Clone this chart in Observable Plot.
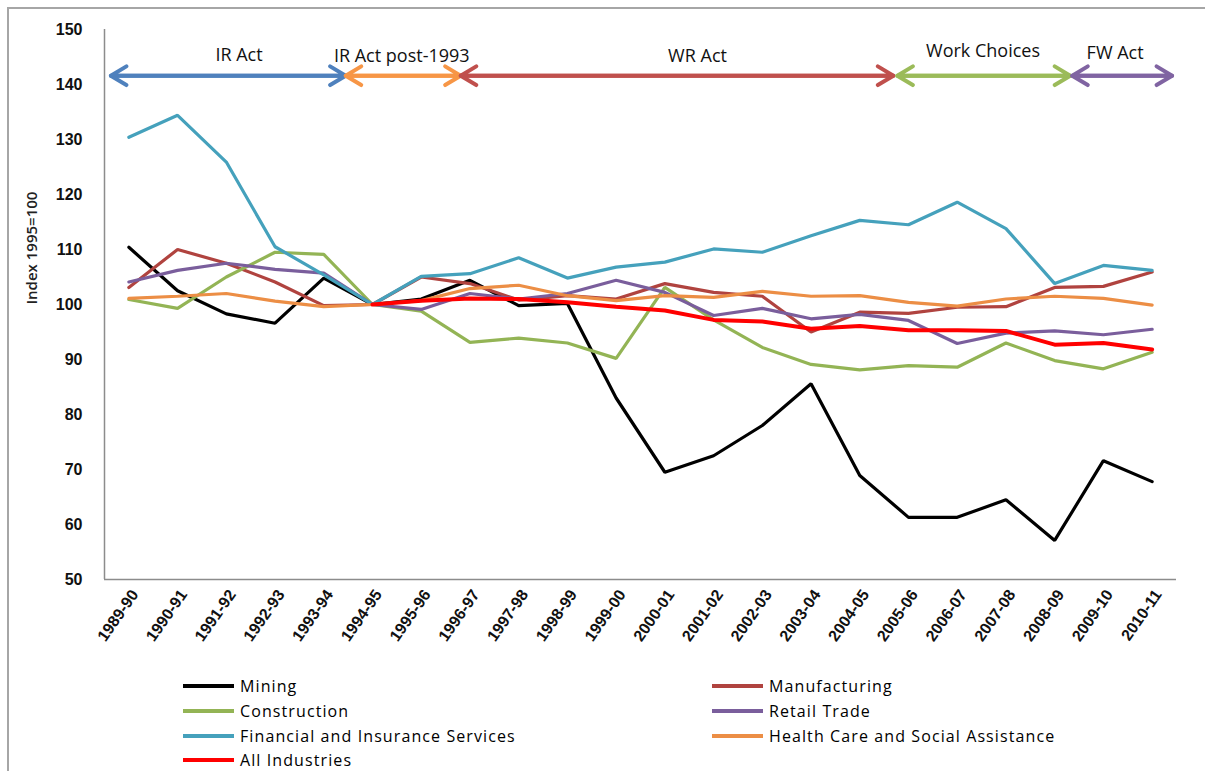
<!DOCTYPE html>
<html><head><meta charset="utf-8">
<script src="https://cdn.jsdelivr.net/npm/d3@7"></script>
<script src="https://cdn.jsdelivr.net/npm/@observablehq/plot@0.6"></script>
<style>
body{margin:0;background:#fff;width:1205px;height:771px;overflow:hidden;position:relative;}
#frame{position:absolute;left:7px;top:7px;width:1220px;height:800px;border:2px solid #a6a6a6;box-sizing:border-box;}
#chart{position:absolute;left:0;top:0;}
#legend{position:absolute;left:0;top:0;width:1205px;height:771px;}
.item{position:absolute;display:flex;align-items:center;height:20px;font-family:"Open Sans",sans-serif;font-size:16px;letter-spacing:1.1px;color:#000;}
.sw{width:51px;height:4px;margin-right:6px;}
</style></head>
<body>
<div id="frame"></div>
<div id="chart"></div>
<div id="legend"></div>
<script>
const periods = ["1989-90","1990-91","1991-92","1992-93","1993-94","1994-95","1995-96","1996-97","1997-98","1998-99","1999-00","2000-01","2001-02","2002-03","2003-04","2004-05","2005-06","2006-07","2007-08","2008-09","2009-10","2010-11"];
const mining        = [110.4,102.5,98.3,96.6,104.8,100,101.0,104.4,99.8,100.2,83.0,69.5,72.5,78.0,85.6,68.9,61.3,61.3,64.5,57.1,71.6,67.8];
const manufacturing = [103.1,110.0,107.5,104.1,99.8,100,105.0,103.8,100.8,101.6,101.0,103.8,102.2,101.5,95.0,98.6,98.4,99.5,99.6,103.1,103.3,105.9];
const construction  = [100.9,99.3,105.0,109.5,109.1,100,98.8,93.1,93.9,93.0,90.2,103.1,97.2,92.2,89.1,88.1,88.9,88.6,93.0,89.8,88.3,91.3];
const retail        = [104.1,106.2,107.5,106.4,105.7,100,99.1,102.0,101.0,102.0,104.4,102.2,98.0,99.3,97.4,98.2,97.1,92.9,94.8,95.2,94.5,95.5];
const financial     = [130.4,134.4,125.9,110.5,105.4,100,105.1,105.6,108.5,104.8,106.8,107.7,110.1,109.5,112.5,115.3,114.5,118.6,113.8,103.8,107.1,106.2];
const health        = [101.1,101.5,102.0,100.6,99.6,100,100.7,102.9,103.5,101.6,100.7,101.6,101.3,102.4,101.5,101.6,100.4,99.7,101.0,101.5,101.1,99.9];
const allIndustries = [null,null,null,null,null,100,100.7,101.1,101.0,100.4,99.6,98.9,97.2,96.9,95.6,96.1,95.3,95.3,95.2,92.7,93.0,91.8];

const seriesNames  = ["Mining","Manufacturing","Construction","Retail Trade","Financial and Insurance Services","Health Care and Social Assistance","All Industries"];
const seriesValues = [mining, manufacturing, construction, retail, financial, health, allIndustries];
const seriesColors = ["#000000","#B0433F","#93B455","#7A5E9C","#45A1BC","#EC8E45","#FF0000"];
const seriesWidths = [3.2,3.2,3.2,3.2,3.2,3.2,4];

const yTicks = [50,60,70,80,90,100,110,120,130,140,150];
const yLabel = "Index 1995=100";

const acts       = ["IR Act","IR Act post-1993","WR Act","Work Choices","FW Act"];
const actStart   = [-0.37, 4.45, 6.81, 15.77, 19.36];
const actEnd     = [4.45, 6.81, 15.69, 19.32, 21.41];
const actColors  = ["#4F81BD","#F79646","#C0504D","#9BBB59","#8064A2"];
const actLabelX  = [2.26, 5.6, 11.67, 17.53, 20.24];
const actLabelY  = [145.4, 145.1, 145.1, 146.0, 145.6];
const actArrowY  = 141.6;

const data = seriesNames.flatMap((name, k) =>
  periods.map((p, i) => ({series: name, i, value: seriesValues[k][i]})).filter(d => d.value != null));

const arrows = acts.flatMap((a, k) => [
  {a, x1: actStart[k], x2: actEnd[k], color: actColors[k]},
  {a, x1: actEnd[k], x2: actStart[k], color: actColors[k]}
]);
const actLabels = acts.map((a, k) => ({a, x: actLabelX[k], y: actLabelY[k]}));

const marks = [
  Plot.ruleX([-0.5], {stroke: "#8c8c8c", strokeWidth: 1.5}),
  Plot.ruleY([50], {stroke: "#8c8c8c", strokeWidth: 1.5}),
  Plot.axisY({ticks: yTicks, tickSize: 0, tickPadding: 22, fontSize: 16, fontWeight: "bold", label: null}),
  Plot.text([yLabel], {frameAnchor: "left", dx: -72, rotate: -90, fontSize: 15, fontWeight: 600, letterSpacing: 0.6, fill: "#222", fontFamily: "Open Sans"}),
  Plot.axisX({ticks: d3.range(periods.length), tickFormat: i => periods[i], tickRotate: -55, tickSize: 0, tickPadding: 12, fontSize: 16, fontWeight: "bold", dx: 6, label: null}),
];
seriesNames.forEach((name, k) => {
  marks.push(Plot.line(data.filter(d => d.series === name), {x: "i", y: "value", stroke: seriesColors[k], strokeWidth: seriesWidths[k], strokeLinejoin: "miter"}));
});
marks.push(Plot.arrow(arrows, {x1: "x1", x2: "x2", y1: actArrowY, y2: actArrowY, stroke: "color", strokeWidth: 4, headLength: 6.8, headAngle: 62, bend: 0}));
marks.push(Plot.text(actLabels, {x: "x", y: "y", text: "a", fontSize: 18, fill: "#111", fontFamily: "Open Sans", letterSpacing: 1.3}));

const chart = Plot.plot({
  width: 1205, height: 668,
  marginLeft: 104, marginRight: 29, marginTop: 29, marginBottom: 89,
  x: {domain: [-0.5, 21.5]},
  y: {domain: [50, 150]},
  style: {fontFamily: "Liberation Sans, sans-serif", color: "#111", background: "transparent"},
  marks
});
document.getElementById("chart").appendChild(chart);

const colX = [183, 712];
const rowY = [686, 711, 736, 760];
const legend = document.getElementById("legend");
seriesNames.forEach((name, k) => {
  const it = document.createElement("div");
  it.className = "item";
  it.style.left = colX[k % 2] + "px";
  it.style.top = (rowY[Math.floor(k / 2)] - 10) + "px";
  const sw = document.createElement("div");
  sw.className = "sw";
  sw.style.background = seriesColors[k];
  const t = document.createElement("span");
  t.textContent = name;
  it.appendChild(sw); it.appendChild(t);
  legend.appendChild(it);
});
</script>
</body></html>
